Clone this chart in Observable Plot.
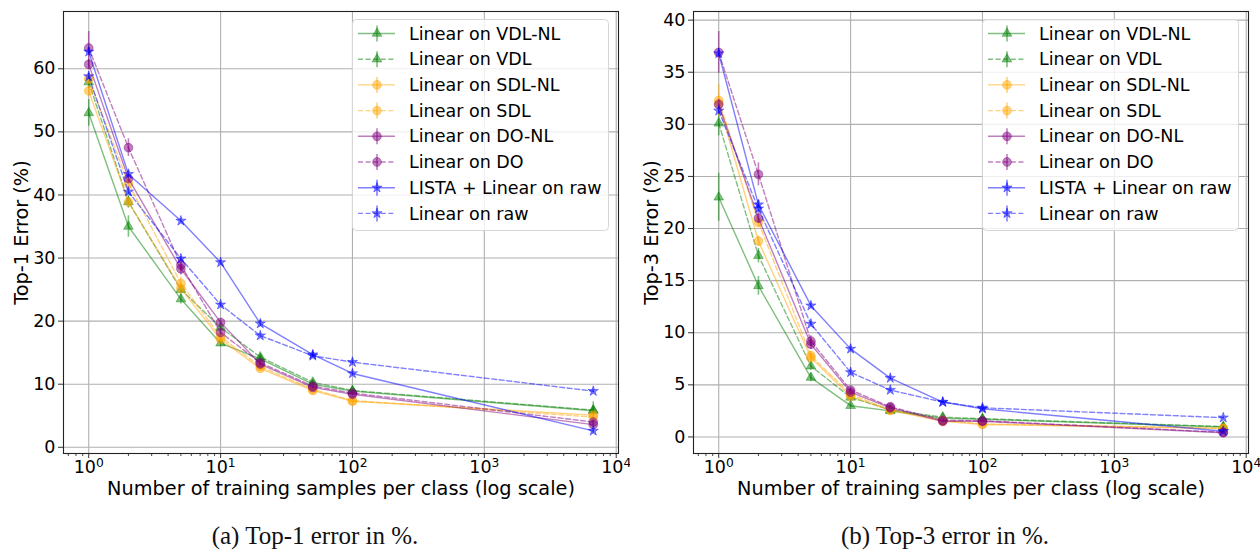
<!DOCTYPE html>
<html><head><meta charset="utf-8">
<script src="https://cdn.jsdelivr.net/npm/d3@7"></script>
<script src="https://cdn.jsdelivr.net/npm/@observablehq/plot@0.6"></script>
<style>
body{margin:0;background:#fff;}
#wrap{position:relative;width:1260px;height:550px;font-family:"DejaVu Sans",sans-serif;overflow:hidden;}
.panel{position:absolute;top:0;width:630px;height:500px;}
.legend{position:absolute;left:352px;top:19px;}
.caption{position:absolute;top:522px;width:630px;text-align:center;font-family:"Liberation Serif",serif;font-size:25px;color:#111;}
</style></head><body><div id="wrap"></div>
<script>
// ---- data ----
const samples = [1, 2, 5, 10, 20, 50, 100, 6700];
const seriesNames = ["Linear on VDL-NL","Linear on VDL","Linear on SDL-NL","Linear on SDL","Linear on DO-NL","Linear on DO","LISTA + Linear on raw","Linear on raw"];
const xTicks = [1, 10, 100, 1000, 10000];
const top1Ticks = [0, 10, 20, 30, 40, 50, 60];
const top3Ticks = [0, 5, 10, 15, 20, 25, 30, 35, 40];

// Top-1 error (%)
const top1VdlNl = [53.0, 35.0, 23.5, 16.5, 14.0, 10.0, 8.9, 5.8];
const top1Vdl   = [57.9, 38.9, 25.0, 19.0, 14.3, 10.3, 9.0, 5.9];
const top1SdlNl = [56.5, 38.9, 25.2, 17.1, 12.5, 9.0, 7.3, 5.1];
const top1Sdl   = [58.4, 41.8, 26.0, 17.5, 12.8, 9.2, 7.4, 4.8];
const top1DoNl  = [60.7, 42.6, 28.3, 19.8, 13.2, 9.5, 8.4, 3.6];
const top1Do    = [63.3, 47.5, 28.9, 18.2, 13.4, 9.7, 8.6, 4.0];
const top1Lista = [62.7, 43.3, 35.9, 29.3, 19.6, 14.7, 11.7, 2.6];
const top1Raw   = [58.8, 40.5, 29.9, 22.6, 17.7, 14.5, 13.5, 8.9];
// Top-1 error bars (±)
const top1VdlNlErr = [2.1, 1.7, 0.8, 0.5, 0.4, 0.3, 0.3, 0.5];
const top1VdlErr   = [1.0, 1.0, 0.6, 0.5, 0.4, 0.3, 0.3, 1.3];
const top1SdlNlErr = [0.8, 0.6, 0.6, 0.4, 0.3, 0.2, 0.2, 0.3];
const top1SdlErr   = [0.8, 0.6, 1.0, 0.5, 0.3, 0.2, 0.2, 0.3];
const top1DoNlErr  = [0.8, 0.6, 1.0, 0.4, 0.3, 0.2, 0.2, 0.3];
const top1DoErr    = [2.6, 1.4, 1.0, 0.5, 0.3, 0.2, 0.2, 0.3];
const top1ListaErr = [0.6, 0.5, 0.3, 0.3, 0.5, 0.3, 0.3, 0.4];
const top1RawErr   = [0.5, 0.5, 0.3, 0.3, 0.3, 0.3, 0.3, 0.3];

// Top-3 error (%)
const top3VdlNl = [23.0, 14.5, 5.7, 3.0, 2.5, 1.8, 1.7, 0.95];
const top3Vdl   = [30.1, 17.4, 6.8, 3.8, 2.6, 1.9, 1.75, 1.0];
const top3SdlNl = [32.0, 18.8, 7.6, 3.9, 2.55, 1.5, 1.2, 0.8];
const top3Sdl   = [32.3, 20.6, 7.8, 4.1, 2.6, 1.6, 1.25, 0.85];
const top3DoNl  = [31.9, 21.0, 8.9, 4.3, 2.8, 1.5, 1.5, 0.4];
const top3Do    = [36.9, 25.2, 9.2, 4.5, 2.9, 1.6, 1.55, 0.45];
const top3Lista = [36.8, 22.3, 12.6, 8.45, 5.65, 3.35, 2.7, 0.55];
const top3Raw   = [31.3, 21.9, 10.85, 6.2, 4.5, 3.35, 2.8, 1.85];
// Top-3 error bars (±)
const top3VdlNlErr = [2.3, 0.9, 0.4, 0.2, 0.2, 0.1, 0.1, 0.1];
const top3VdlErr   = [1.2, 0.7, 0.4, 0.2, 0.2, 0.1, 0.1, 0.3];
const top3SdlNlErr = [0.6, 0.5, 0.4, 0.2, 0.1, 0.1, 0.1, 0.1];
const top3SdlErr   = [1.5, 0.5, 0.4, 0.2, 0.1, 0.1, 0.1, 0.1];
const top3DoNlErr  = [0.5, 0.5, 0.5, 0.2, 0.1, 0.1, 0.1, 0.06];
const top3DoErr    = [2.0, 1.1, 0.5, 0.2, 0.1, 0.1, 0.1, 0.06];
const top3ListaErr = [0.3, 0.4, 0.2, 0.2, 0.2, 0.1, 0.1, 0.1];
const top3RawErr   = [0.3, 0.4, 0.2, 0.2, 0.2, 0.1, 0.1, 0.1];

// ---- styles ----
const colors = ["#008000","#008000","#ffa500","#ffa500","#800080","#800080","#0000ff","#0000ff"];
const dashes = [null,"5,2.6",null,"5,2.6",null,"5,2.6",null,"5,2.6"];
const symbols = ["triangle","triangle","circle","circle","circle","circle","star","star"];
const radii = [3.6,3.6,4.4,4.4,4.4,4.4,3.2,3.2];

const panels = [
  {id:"a", ylabel:"Top-1 Error (%)", ticks: top1Ticks, caption:"(a) Top-1 error in %.",
   values:[top1VdlNl,top1Vdl,top1SdlNl,top1Sdl,top1DoNl,top1Do,top1Lista,top1Raw],
   errs:[top1VdlNlErr,top1VdlErr,top1SdlNlErr,top1SdlErr,top1DoNlErr,top1DoErr,top1ListaErr,top1RawErr]},
  {id:"b", ylabel:"Top-3 Error (%)", ticks: top3Ticks, caption:"(b) Top-3 error in %.",
   values:[top3VdlNl,top3Vdl,top3SdlNl,top3Sdl,top3DoNl,top3Do,top3Lista,top3Raw],
   errs:[top3VdlNlErr,top3VdlErr,top3SdlNlErr,top3SdlErr,top3DoNlErr,top3DoErr,top3ListaErr,top3RawErr]}
];

const W = 630, H = 500;
const mL = 63, mR = 12, mT = 11, mB = 47;
const FS = 17.5;

const lx0 = -0.05*Math.log10(d3.max(samples)), lx1 = 1.05*Math.log10(d3.max(samples));
const xDomain = [Math.pow(10, lx0), Math.pow(10, lx1)];
const minorTicks = [];
for (let e = -1; e <= 4; e++) for (let m = 2; m <= 9; m++) {
  const v = m*Math.pow(10,e); if (v > xDomain[0] && v < xDomain[1]) minorTicks.push(v);
}

const wrap = document.getElementById("wrap");

panels.forEach((p, pi) => {
  const series = p.values.map((vals, i) => vals.map((v, j) => ({n: samples[j], v, e: p.errs[i][j], s: seriesNames[i]})));
  const all = series.flat();
  const lo = d3.min(all, d => d.v - d.e), hi = d3.max(all, d => d.v + d.e);
  const pad = 0.05*(hi - lo);
  const yDomain = [lo - pad, hi + pad];

  const marks = [
    Plot.gridX(xTicks, {stroke:"#b0b0b0", strokeOpacity:1, strokeWidth:1.1}),
    Plot.gridY(p.ticks, {stroke:"#b0b0b0", strokeOpacity:1, strokeWidth:1.1}),
    Plot.axisX(minorTicks, {tickSize:3, text:null, label:null, stroke:"#333", strokeWidth:0.9}),
    Plot.axisX(xTicks, {tickSize:5, tickPadding:2, tickFormat: d => "10^" + Math.round(Math.log10(d)), fontSize:FS, label:null, stroke:"#333"}),
    Plot.axisY(p.ticks, {tickSize:5, tickPadding:3, fontSize:FS, label:null, stroke:"#333"}),
  ];
  series.forEach((rows, i) => {
    marks.push(Plot.ruleX(rows, {x:"n", y1: d => d.v - d.e, y2: d => d.v + d.e, stroke: colors[i], strokeOpacity:0.5, strokeWidth:1.6}));
    marks.push(Plot.line(rows, {x:"n", y:"v", stroke: colors[i], strokeOpacity:0.5, strokeWidth:1.4, strokeDasharray: dashes[i]}));
    marks.push(Plot.dot(rows, {x:"n", y:"v", symbol: symbols[i], r: radii[i], fill: colors[i], fillOpacity:0.5, stroke: colors[i], strokeOpacity:0.5, strokeWidth:0.8}));
  });
  marks.push(Plot.frame({stroke:"#222", strokeWidth:1.1}));
  marks.push(Plot.text(["Number of training samples per class (log scale)"], {frameAnchor:"bottom", textAnchor:"middle", lineAnchor:"middle", dy:35, fontSize:19.3, fill:"#000"}));
  marks.push(Plot.text([p.ylabel], {frameAnchor:"left", textAnchor:"middle", lineAnchor:"middle", rotate:-90, dx:-42, fontSize:19.3, fill:"#000"}));

  const chart = Plot.plot({
    width: W, height: H,
    marginLeft: mL, marginRight: mR, marginTop: mT, marginBottom: mB,
    style: {fontFamily: "DejaVu Sans", fontSize: FS + "px", color:"#000", background:"#fff"},
    x: {type:"log", domain: xDomain},
    y: {domain: yDomain},
    marks
  });

  // superscript exponents on x tick labels
  d3.select(chart).selectAll("text").each(function() {
    const t = this.textContent;
    const m = /^10\^(\d)$/.exec(t);
    if (m) {
      const sel = d3.select(this);
      sel.text(null);
      sel.append("tspan").text("10");
      sel.append("tspan").attr("dy","-0.45em").attr("font-size","0.7em").text(m[1]);
    }
  });

  const panel = document.createElement("div");
  panel.className = "panel";
  panel.style.left = (pi*W) + "px";
  panel.appendChild(chart);

  // legend
  const LW = 256, LH = 211, rowH = 25.7, row0 = 14.5;
  const lsvg = d3.create("svg").attr("class","legend").attr("width", LW+2).attr("height", LH+2);
  lsvg.append("rect").attr("x",0.5).attr("y",0.5).attr("width",LW).attr("height",LH).attr("rx",4)
    .attr("fill","#fff").attr("fill-opacity",0.8).attr("stroke","#d6d6d6");
  const symMap = {triangle: d3.symbolTriangle, circle: d3.symbolCircle, star: d3.symbolStar};
  seriesNames.forEach((name, i) => {
    const cy = row0 + i*rowH;
    const g = lsvg.append("g").attr("transform", `translate(0,${cy})`);
    g.append("line").attr("x1",6).attr("x2",43).attr("y1",0).attr("y2",0)
      .attr("stroke",colors[i]).attr("stroke-opacity",0.5).attr("stroke-width",1.4)
      .attr("stroke-dasharray", dashes[i]);
    g.append("line").attr("x1",25).attr("x2",25).attr("y1",-8).attr("y2",8)
      .attr("stroke",colors[i]).attr("stroke-opacity",0.5).attr("stroke-width",1.6);
    g.append("path").attr("transform","translate(25,0)")
      .attr("d", d3.symbol(symMap[symbols[i]], Math.PI*radii[i]*radii[i])())
      .attr("fill",colors[i]).attr("fill-opacity",0.5).attr("stroke",colors[i]).attr("stroke-opacity",0.5).attr("stroke-width",0.8);
    g.append("text").attr("x",57).attr("y",0).attr("dy","0.35em")
      .attr("font-family","DejaVu Sans").attr("font-size",FS).attr("fill","#000").text(name);
  });
  panel.appendChild(lsvg.node());
  wrap.appendChild(panel);

  const cap = document.createElement("div");
  cap.className = "caption";
  cap.style.left = (pi*W) + "px";
  cap.textContent = p.caption;
  wrap.appendChild(cap);
});
</script>
</body></html>
